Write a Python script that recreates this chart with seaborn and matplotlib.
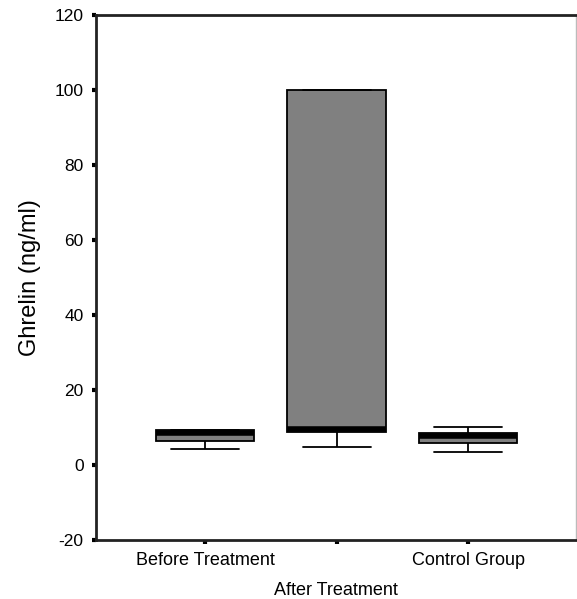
import matplotlib
matplotlib.use("Agg")
import matplotlib.pyplot as plt
import pandas as pd
import seaborn as sns

# values: min, q1, median, q3, max per group
groups = ["Before Treatment", "After Treatment", "Control Group"]
tick_labels = ["Before Treatment", "", "Control Group"]
before = [4.3, 6.4, 8.5, 9.3, 9.3]
after = [4.9, 8.9, 9.6, 100.0, 100.0]
control = [3.5, 5.8, 7.7, 8.4, 10.2]
y_ticks = [-20, 0, 20, 40, 60, 80, 100, 120]

df = pd.DataFrame({
    "group": [groups[0]] * len(before) + [groups[1]] * len(after) + [groups[2]] * len(control),
    "ghrelin": before + after + control,
})

sns.set_style("white")
plt.rcParams["font.family"] = ["Liberation Sans", "DejaVu Sans"]
plt.rcParams["text.color"] = "black"

fig = plt.figure(figsize=(5.77, 5.99), dpi=100)
ax = fig.add_axes([0.1664, 0.0985, 0.8316, 0.8765])

sns.boxplot(
    data=df, x="group", y="ghrelin", order=groups, ax=ax,
    color="#808080", saturation=1, width=0.75, linecolor="black", linewidth=1.3,
    medianprops={"color": "black", "linewidth": 4},
)

# widen the whisker caps a bit (SPSS style)
for line in ax.lines:
    xd = list(line.get_xdata())
    yd = list(line.get_ydata())
    if len(xd) == 2 and yd[0] == yd[1] and line.get_linewidth() < 3:
        c = (xd[0] + xd[1]) / 2
        h = (xd[1] - xd[0]) / 2 * 1.38
        line.set_xdata([c - h, c + h])

ax.set_ylim(-20, 120)
ax.set_xlim(-0.83, 2.82)
ax.set_yticks(y_ticks)
ax.set_yticklabels([str(t) for t in y_ticks], fontsize=12.5, color="black")
ax.set_xticks(range(len(groups)))
ax.set_xticklabels(tick_labels, fontsize=13, color="black")

ax.set_xlabel(groups[1], fontsize=13, labelpad=9, color="black")
ax.set_ylabel("Ghrelin (ng/ml)", fontsize=17, labelpad=10, color="black")

ax.tick_params(axis="both", direction="out", length=3, width=3, color="black", pad=6)
ax.tick_params(axis="y", left=True)
ax.tick_params(axis="x", bottom=True)
for side in ["left", "top", "bottom"]:
    ax.spines[side].set_color("#222222")
    ax.spines[side].set_linewidth(2)
ax.spines["right"].set_color("#bbbbbb")
ax.spines["right"].set_linewidth(1)

fig.savefig("out.png", dpi=100)
